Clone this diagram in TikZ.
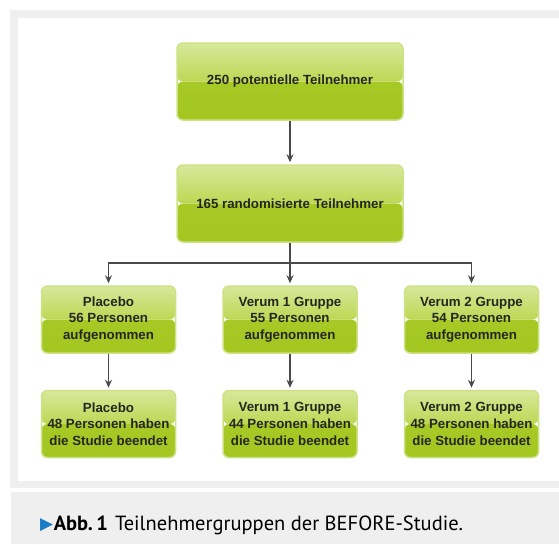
\documentclass[tikz,border=0pt]{standalone}
\usepackage{fontspec}
\usetikzlibrary{positioning,arrows.meta}
\newfontfamily\boxfont{Liberation Sans}
\newfontfamily\capfont{PT Sans}
\newfontfamily\symfont{DejaVu Sans}
\definecolor{framegrey}{HTML}{EFEFEF}
\definecolor{boxedge}{HTML}{CDE285}
\definecolor{boxtop}{HTML}{D8E89C}
\definecolor{boxmid}{HTML}{BDD752}
\definecolor{boxlow}{HTML}{ACCC2C}
\definecolor{boxbot}{HTML}{A3C620}
\definecolor{boxtext}{HTML}{26261F}
\definecolor{linkgrey}{HTML}{4A4A4A}
\definecolor{capblue}{HTML}{1B7DC4}
\tikzset{
  greenbox/.style={rectangle, rounded corners=6pt, draw=boxedge, line width=1.5pt,
    align=center, text=boxtext, inner sep=2pt,
    font=\boxfont\bfseries\fontsize{13.3}{16.7}\selectfont,
    path picture={
      \shade[top color=boxlow, bottom color=boxbot]
        (path picture bounding box.south west) rectangle (path picture bounding box.east);
      \shade[top color=boxtop, bottom color=boxmid]
        (path picture bounding box.north west) rectangle (path picture bounding box.east);
    }},
  bigbox/.style={greenbox, minimum width=226pt, minimum height=77pt},
  grpbox/.style={greenbox, minimum width=134pt, minimum height=67pt},
  link/.style={draw=linkgrey, line width=1.2pt, shorten >=2pt}
}
\begin{document}
\begin{tikzpicture}[x=1pt,y=-1pt,>={Stealth[length=8pt,width=7pt]},node distance=122pt,on grid]
  % frame and caption band
  \useasboundingbox (0,0) rectangle (559,544);
  \fill[framegrey] (10,10) rectangle (559,488);
  \fill[white] (17.7,17.7) rectangle (559,481);
  \fill[framegrey] (11,492) rectangle (559,544);

  \node[bigbox] (pot)  at (290,81.5)  {250 potentielle Teilnehmer};
  \node[bigbox] (rand) [below=of pot] {165 randomisierte Teilnehmer};
  \node[coordinate] (split) [below=59.5pt of rand] {};

  \node[grpbox] (v1) [below=116pt of rand] {Verum 1 Gruppe\\55 Personen\\aufgenommen};
  \node[grpbox] (pl) [left=181.5pt of v1]  {Placebo\\56 Personen\\aufgenommen};
  \node[grpbox] (v2) [right=181.5pt of v1] {Verum 2 Gruppe\\54 Personen\\aufgenommen};

  \node[grpbox] (v1end) [below=104.5pt of v1] {Verum 1 Gruppe\\44 Personen haben\\die Studie beendet};
  \node[grpbox] (plend) [below=104.5pt of pl] {Placebo\\48 Personen haben\\die Studie beendet};
  \node[grpbox] (v2end) [below=104.5pt of v2] {Verum 2 Gruppe\\48 Personen haben\\die Studie beendet};

  \draw[link,->] (pot) -- (rand);
  \draw[link,->] (rand) -- (v1);
  \draw[link,->] (split) -| (pl);
  \draw[link,->] (split) -| (v2);
  \draw[link,->] (pl) -- (plend);
  \draw[link,->] (v1) -- (v1end);
  \draw[link,->] (v2) -- (v2end);

  % caption
  \node[anchor=base west, inner sep=0pt, font=\capfont\fontsize{20.5}{24}\selectfont] (cap) at (40,530)
    {\raisebox{0.5pt}{\symfont\fontsize{17}{18}\selectfont\textcolor{capblue}{▶}}\hspace{0.5pt}\textbf{Abb.\,1}\hspace{7pt}Teilnehmergruppen der BEFORE-Studie.};
\end{tikzpicture}
\end{document}
